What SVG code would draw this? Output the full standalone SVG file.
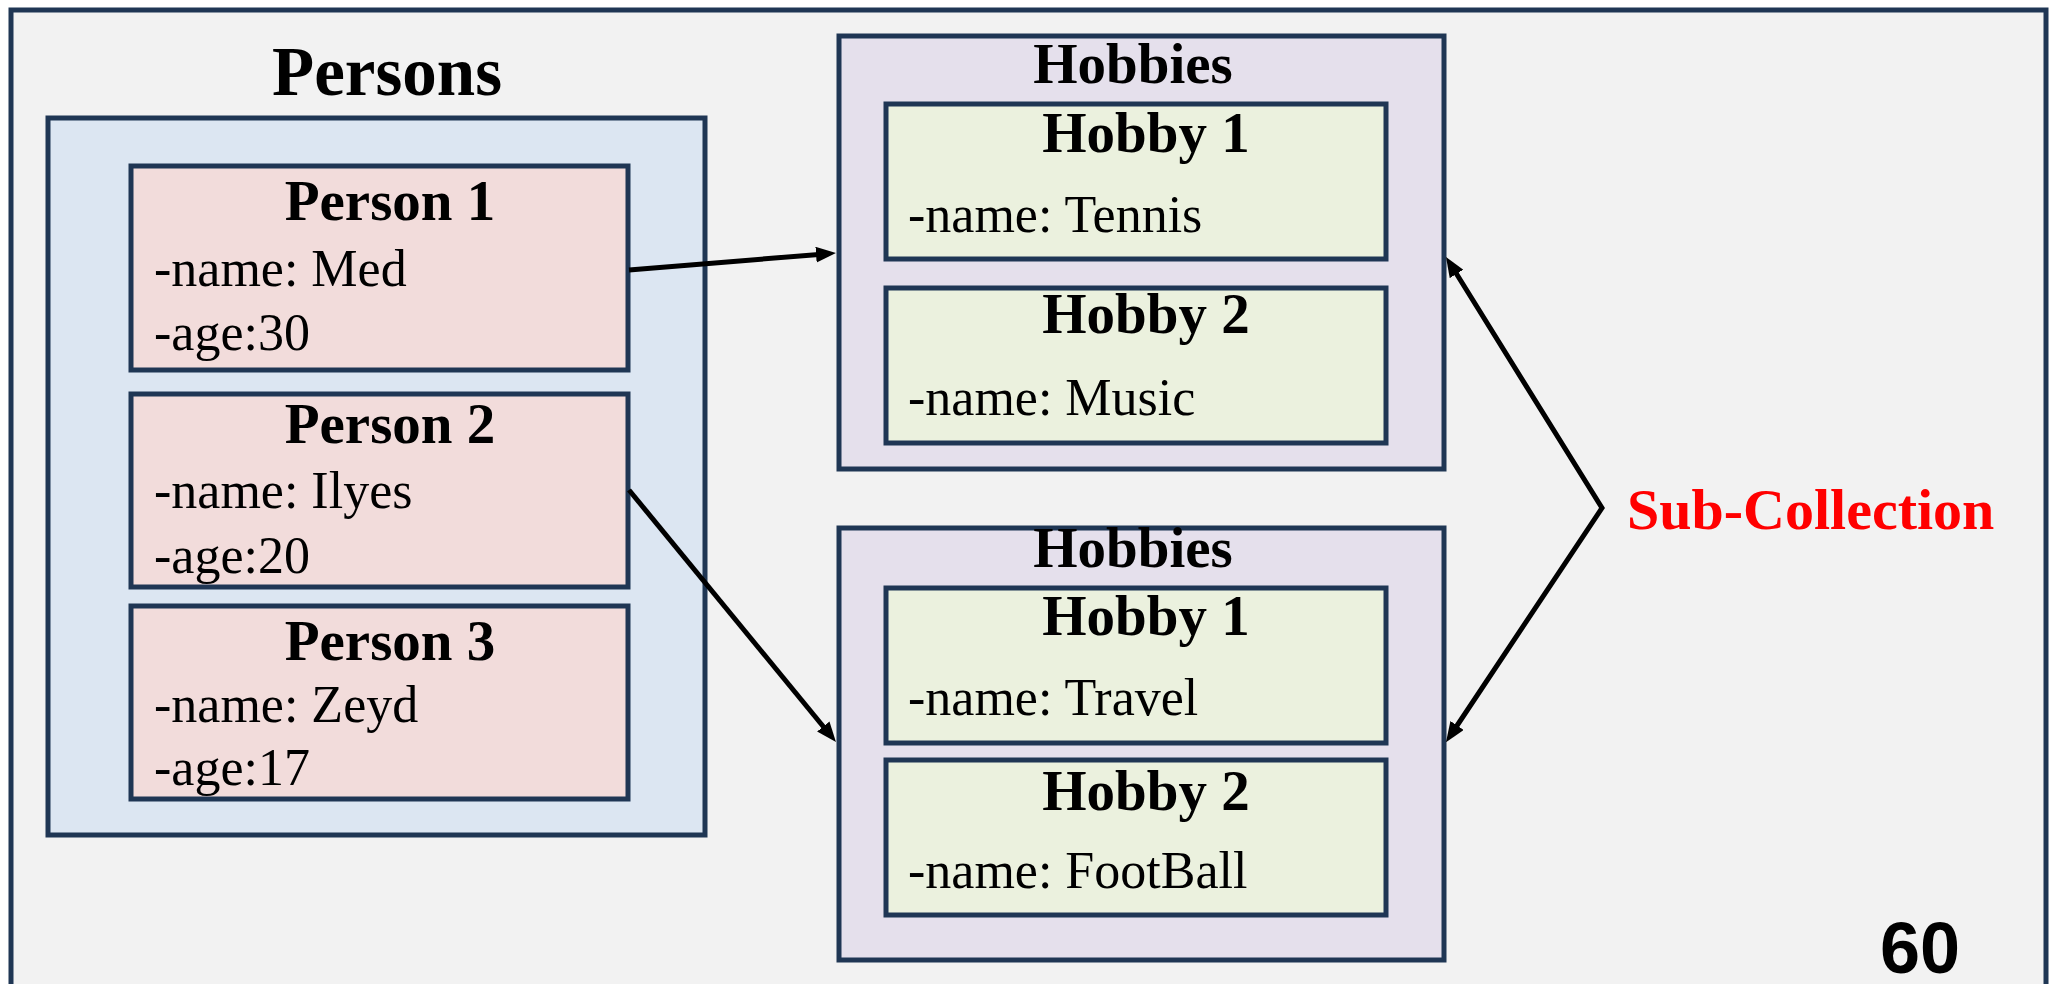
<svg xmlns="http://www.w3.org/2000/svg" width="2055" height="984" viewBox="0 0 2055 984">
  <defs>
    <style>
      .box { stroke: #1f3654; stroke-width: 5; }
      .frame { fill: #f2f2f2; }
      .persons { fill: #dce6f2; }
      .person { fill: #f2dcdb; }
      .hobbies { fill: #e5e0ec; }
      .hobby { fill: #ebf1de; }
      .title { font-family: "Liberation Serif", "Times New Roman", serif; font-weight: bold; fill: #000; text-anchor: middle; }
      .attr { font-family: "Liberation Serif", "Times New Roman", serif; font-size: 52px; fill: #000; }
      .conn { fill: none; stroke: #000; stroke-width: 5; stroke-linejoin: miter; }
    </style>
    <marker id="arrow" markerUnits="userSpaceOnUse" markerWidth="20" markerHeight="16" refX="9" refY="8" orient="auto-start-reverse" viewBox="0 0 20 16">
      <path d="M0,0 L20,8 L0,16 z" fill="#000"/>
    </marker>
  </defs>
  <rect width="2055" height="984" fill="#ffffff"/>
  <g id="frame">
    <rect class="box frame" x="11" y="10" width="2035" height="1000"/>
    <text x="1920" y="973" font-family="'Liberation Sans', Arial, sans-serif" font-weight="bold" font-size="72" text-anchor="middle" fill="#000">60</text>
  </g>
  <g id="persons">
    <rect class="box persons" x="48" y="118" width="657" height="717"/>
    <text class="title" x="387" y="95" font-size="69">Persons</text>
  </g>
  <g id="person1">
    <rect class="box person" x="131" y="166" width="497" height="204"/>
    <text class="title" x="390" y="220" font-size="57">Person 1</text>
    <text class="attr" x="154" y="286">-name: Med</text>
    <text class="attr" x="154" y="350">-age:30</text>
  </g>
  <g id="person2">
    <rect class="box person" x="131" y="394" width="497" height="193"/>
    <text class="title" x="390" y="443" font-size="57">Person 2</text>
    <text class="attr" x="154" y="508">-name: Ilyes</text>
    <text class="attr" x="154" y="573">-age:20</text>
  </g>
  <g id="person3">
    <rect class="box person" x="131" y="606" width="497" height="193"/>
    <text class="title" x="390" y="660" font-size="57">Person 3</text>
    <text class="attr" x="154" y="722">-name: Zeyd</text>
    <text class="attr" x="154" y="785">-age:17</text>
  </g>
  <g id="hobbies1">
    <rect class="box hobbies" x="839" y="36" width="605" height="433"/>
    <text class="title" x="1133" y="83" font-size="57">Hobbies</text>
  </g>
  <g id="hobbies1-hobby1">
    <rect class="box hobby" x="886" y="104" width="500" height="155"/>
    <text class="title" x="1146" y="152" font-size="57">Hobby 1</text>
    <text class="attr" x="908" y="232">-name: Tennis</text>
  </g>
  <g id="hobbies1-hobby2">
    <rect class="box hobby" x="886" y="288" width="500" height="155"/>
    <text class="title" x="1146" y="333" font-size="57">Hobby 2</text>
    <text class="attr" x="908" y="415">-name: Music</text>
  </g>
  <g id="hobbies2">
    <rect class="box hobbies" x="839" y="528" width="605" height="432"/>
    <text class="title" x="1133" y="567" font-size="57">Hobbies</text>
  </g>
  <g id="hobbies2-hobby1">
    <rect class="box hobby" x="886" y="588" width="500" height="155"/>
    <text class="title" x="1146" y="635" font-size="57">Hobby 1</text>
    <text class="attr" x="908" y="715">-name: Travel</text>
  </g>
  <g id="hobbies2-hobby2">
    <rect class="box hobby" x="886" y="760" width="500" height="155"/>
    <text class="title" x="1146" y="810" font-size="57">Hobby 2</text>
    <text class="attr" x="908" y="888">-name: FootBall</text>
  </g>
  <g id="subcollection-label">
    <text x="1627" y="529" font-family="'Liberation Serif', 'Times New Roman', serif" font-weight="bold" font-size="58" fill="#ff0000">Sub-Collection</text>
  </g>
  <g id="connectors">
    <path class="conn" d="M629,270 L825,253.9" marker-end="url(#arrow)"/>
    <path class="conn" d="M629,490 L829,733.5" marker-end="url(#arrow)"/>
    <path class="conn" d="M1451.8,266.3 L1602,508 L1452.1,733" marker-start="url(#arrow)" marker-end="url(#arrow)"/>
  </g>
</svg>
